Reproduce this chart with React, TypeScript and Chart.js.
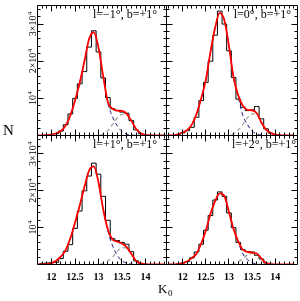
import React, { useEffect, useRef } from 'react';
import { Chart, registerables } from 'chart.js';
Chart.register(...registerables);

// K0 bin centres (mag)
const binCenters = [11.7, 11.8, 11.9, 12.0, 12.1, 12.2, 12.3, 12.4, 12.5, 12.6, 12.7, 12.8, 12.9, 13.0, 13.1, 13.2, 13.3, 13.4, 13.5, 13.6, 13.7, 13.8, 13.9, 14.0, 14.1, 14.2, 14.3, 14.4];

// l=-1, b=+1
const histTL = [0, 0, 100, 300, 500, 1200, 2900, 5800, 10000, 13900, 17200, 23800, 28200, 22500, 15500, 10200, 7200, 6700, 6300, 6000, 4000, 1500, 500, 200, 50, 0, 0, 0];
const redTL = [0, 0, 100, 250, 600, 1200, 2700, 5400, 9400, 14200, 20000, 26000, 27800, 23700, 16000, 9000, 7200, 6700, 6600, 5900, 4000, 1800, 600, 150, 30, 0, 0, 0];
const blueTL = [0, 0, 100, 250, 600, 1200, 2700, 5400, 9400, 14200, 20000, 26000, 27800, 23700, 16000, 8700, 5000, 2600, 1100, 400, 120, 20, 0, 0, 0, 0, 0, 0];
const grayTL = [0, 0, 0, 0, 0, 0, 0, 0, 0, 0, 0, 0, 0, 100, 400, 1300, 3000, 4700, 5700, 5700, 4000, 1800, 600, 150, 30, 0, 0, 0];

// l=0, b=+1
const histTR = [0, 0, 200, 700, 1300, 2200, 4900, 9400, 14300, 20000, 27000, 33500, 30000, 22800, 15600, 9800, 7600, 6700, 6900, 7800, 4500, 1800, 600, 200, 50, 0, 0, 0];
const redTR = [0, 50, 300, 800, 1500, 3000, 5800, 10000, 15000, 22500, 29000, 33000, 31000, 24000, 15500, 10800, 8000, 6900, 6800, 6000, 3500, 1600, 700, 300, 100, 20, 0, 0];
const blueTR = [0, 50, 300, 800, 1500, 3000, 5800, 10000, 15000, 22500, 29000, 33000, 31000, 24000, 15500, 10300, 5400, 2900, 1200, 450, 100, 20, 0, 0, 0, 0, 0, 0];
const grayTR = [0, 0, 0, 0, 0, 0, 0, 0, 0, 0, 0, 0, 0, 100, 500, 1500, 3000, 4800, 5800, 5600, 3400, 1600, 700, 300, 100, 20, 0, 0];

// l=+1, b=+1
const histBL = [0, 300, 400, 500, 600, 1600, 3600, 5400, 9800, 14500, 20000, 24000, 27500, 24500, 18500, 12000, 7000, 6500, 6000, 5500, 3500, 1000, 300, 100, 0, 0, 0, 0];
const redBL = [0, 50, 150, 400, 1000, 2200, 3900, 7100, 11400, 16000, 21000, 25500, 26600, 22300, 15000, 9500, 6800, 6200, 5700, 4700, 2900, 1000, 300, 80, 0, 0, 0, 0];
const blueBL = [0, 50, 150, 400, 1000, 2200, 3900, 7100, 11400, 16000, 21000, 25500, 26600, 22300, 15000, 9100, 5100, 2500, 1000, 400, 100, 0, 0, 0, 0, 0, 0, 0];
const grayBL = [0, 0, 0, 0, 0, 0, 0, 0, 0, 0, 0, 0, 0, 100, 400, 1000, 2000, 3600, 4600, 4500, 2900, 1000, 300, 80, 0, 0, 0, 0];

// l=+2, b=+1
const histBR = [0, 0, 100, 400, 800, 1800, 3400, 5500, 9300, 13300, 17500, 19700, 18500, 14000, 10000, 6000, 4000, 3500, 3400, 2500, 1500, 400, 100, 0, 0, 0, 0, 0];
const redBR = [0, 0, 150, 400, 900, 1800, 3000, 5700, 9200, 13700, 17200, 19300, 18600, 14200, 9600, 6300, 4000, 3400, 3200, 3000, 1600, 400, 100, 0, 0, 0, 0, 0];
const blueBR = [0, 0, 150, 400, 900, 1800, 3000, 5700, 9200, 13700, 17200, 19300, 18600, 14200, 9600, 6000, 2900, 1300, 500, 150, 0, 0, 0, 0, 0, 0, 0, 0];
const grayBR = [0, 0, 0, 0, 0, 0, 0, 0, 0, 0, 0, 0, 0, 0, 200, 700, 1600, 2600, 3000, 2900, 1600, 400, 100, 0, 0, 0, 0, 0];

const panelLabels = ['l=\u22121\u00b0, b=+1\u00b0', 'l=0\u00b0, b=+1\u00b0', 'l=+1\u00b0, b=+1\u00b0', 'l=+2\u00b0, b=+1\u00b0'];
const xTickValues = [12, 12.5, 13, 13.5, 14];
const xTickLabels = ['12', '12.5', '13', '13.5', '14'];
const yTickValues = [10000, 20000, 30000];
const yTickMantissa = ['', '2\u00d7', '3\u00d7'];
const yTickBase = '10';
const yTickExp = '4';
const yTitle = 'N';
const xTitle = 'K';
const xTitleSub = '0';

const W = 300;
const H = 301;
const SERIF = '"Liberation Serif", "Times New Roman", serif';

type Panel = {
  area: [number, number, number, number];
  xr: [number, number];
  hist: number[]; red: number[]; blue: number[]; gray: number[];
  label: string; labelRight: number; labelY: number;
  yLabels: boolean; xLabels: boolean; titles: boolean;
};

const panels: Panel[] = [
  { area: [37.5, 5.5, 166.5, 135.5], xr: [11.7, 14.45], hist: histTL, red: redTL, blue: blueTL, gray: grayTL, label: panelLabels[0], labelRight: 157, labelY: 18, yLabels: true, xLabels: false, titles: false },
  { area: [166.5, 5.5, 297.5, 135.5], xr: [11.65, 14.48], hist: histTR, red: redTR, blue: blueTR, gray: grayTR, label: panelLabels[1], labelRight: 291, labelY: 18, yLabels: false, xLabels: false, titles: false },
  { area: [37.5, 135.5, 166.5, 264.5], xr: [11.7, 14.45], hist: histBL, red: redBL, blue: blueBL, gray: grayBL, label: panelLabels[2], labelRight: 157, labelY: 148, yLabels: true, xLabels: true, titles: true },
  { area: [166.5, 135.5, 297.5, 264.5], xr: [11.65, 14.48], hist: histBR, red: redBR, blue: blueBR, gray: grayBR, label: panelLabels[3], labelRight: 296, labelY: 148, yLabels: false, xLabels: true, titles: false },
];

const snap = (v: number) => Math.round(v - 0.5) + 0.5;

function framePlugin(p: Panel) {
  return {
    id: 'frame',
    afterDraw(chart: any) {
      const { ctx, chartArea } = chart;
      const { left, right, top, bottom } = chartArea;
      const xs = chart.scales.x;
      const ys = chart.scales.y;
      ctx.save();
      ctx.strokeStyle = '#000';
      ctx.lineWidth = 1;
      ctx.beginPath();
      ctx.rect(left, top, right - left, bottom - top);
      ctx.stroke();
      const k0 = Math.ceil(xs.min * 10 - 1e-6);
      const k1 = Math.floor(xs.max * 10 + 1e-6);
      ctx.beginPath();
      for (let k = k0; k <= k1; k++) {
        const px = snap(xs.getPixelForValue(k / 10));
        if (px <= left + 1 || px >= right - 1) continue;
        const len = k % 5 === 0 ? 6 : 3;
        ctx.moveTo(px, bottom); ctx.lineTo(px, bottom - len);
        ctx.moveTo(px, top); ctx.lineTo(px, top + len);
      }
      for (let v = 2000; v < ys.max; v += 2000) {
        const py = snap(ys.getPixelForValue(v));
        const len = v % 10000 === 0 ? 6 : 3;
        ctx.moveTo(left, py); ctx.lineTo(left + len, py);
        ctx.moveTo(right, py); ctx.lineTo(right - len, py);
      }
      ctx.stroke();

      ctx.fillStyle = '#000';
      ctx.font = `12px ${SERIF}`;
      ctx.textAlign = 'right';
      ctx.textBaseline = 'alphabetic';
      ctx.fillText(p.label, p.labelRight, p.labelY);

      if (p.xLabels) {
        ctx.font = `bold 10px ${SERIF}`;
        ctx.textAlign = 'center';
        ctx.textBaseline = 'alphabetic';
        xTickValues.forEach((v, i) => {
          ctx.fillText(xTickLabels[i], xs.getPixelForValue(v), 280);
        });
      }
      if (p.yLabels) {
        yTickValues.forEach((v, i) => {
          const py = ys.getPixelForValue(v);
          ctx.save();
          ctx.translate(32, py);
          ctx.rotate(-Math.PI / 2);
          ctx.font = `10px ${SERIF}`;
          const m = yTickMantissa[i];
          const w1 = ctx.measureText(m + yTickBase).width;
          ctx.font = `7px ${SERIF}`;
          const w2 = ctx.measureText(yTickExp).width;
          const x0 = -(w1 + w2) / 2;
          ctx.textAlign = 'left';
          ctx.textBaseline = 'alphabetic';
          ctx.font = `10px ${SERIF}`;
          ctx.fillText(m + yTickBase, x0, 3.5);
          ctx.font = `7px ${SERIF}`;
          ctx.fillText(yTickExp, x0 + w1 + 0.3, -0.5);
          ctx.restore();
        });
      }
      if (p.titles) {
        ctx.font = `15px ${SERIF}`;
        ctx.textAlign = 'left';
        ctx.textBaseline = 'alphabetic';
        ctx.fillText(yTitle, 3, 135);
        ctx.font = `13px ${SERIF}`;
        ctx.fillText(xTitle, 158, 293);
        const wk = ctx.measureText(xTitle).width;
        ctx.font = `9px ${SERIF}`;
        ctx.fillText(xTitleSub, 158 + wk + 0.5, 296);
      }
      ctx.restore();
    },
  };
}

function makeChart(canvas: HTMLCanvasElement, p: Panel) {
  const pts = (arr: number[]) => binCenters.map((x, i) => ({ x, y: arr[i] }));
  return new Chart(canvas, {
    type: 'line',
    data: {
      datasets: [
        { data: pts(p.red), borderColor: '#ff0000', borderWidth: 1.8, pointRadius: 0, cubicInterpolationMode: 'monotone', fill: false },
        { data: pts(p.blue), borderColor: '#1c1c80', borderWidth: 1, borderDash: [4, 3], pointRadius: 0, cubicInterpolationMode: 'monotone', fill: false },
        { data: pts(p.gray), borderColor: '#a0a0a0', borderWidth: 1.2, borderDash: [4, 3], pointRadius: 0, cubicInterpolationMode: 'monotone', fill: false },
        { data: pts(p.hist), borderColor: '#000000', borderWidth: 1, pointRadius: 0, stepped: 'middle', fill: false },
      ],
    } as any,
    options: {
      responsive: false,
      animation: false,
      devicePixelRatio: 1,
      events: [],
      layout: { padding: { left: p.area[0], top: p.area[1], right: W - p.area[2], bottom: H - p.area[3] } },
      plugins: { legend: { display: false }, tooltip: { enabled: false } },
      scales: {
        x: { type: 'linear', display: false, min: p.xr[0], max: p.xr[1] },
        y: { type: 'linear', display: false, min: 0, max: 35000 },
      },
    } as any,
    plugins: [framePlugin(p)],
  });
}

export default function App() {
  const refs = useRef<(HTMLCanvasElement | null)[]>([]);
  useEffect(() => {
    const charts = panels.map((p, i) => makeChart(refs.current[i] as HTMLCanvasElement, p));
    return () => charts.forEach((c) => c.destroy());
  }, []);
  return (
    <div style={{ position: 'fixed', left: 0, top: 0, width: W, height: H, background: '#fff' }}>
      {panels.map((_, i) => (
        <canvas
          key={i}
          ref={(el) => { refs.current[i] = el; }}
          width={W}
          height={H}
          style={{ position: 'absolute', left: 0, top: 0, width: W, height: H }}
        />
      ))}
    </div>
  );
}
